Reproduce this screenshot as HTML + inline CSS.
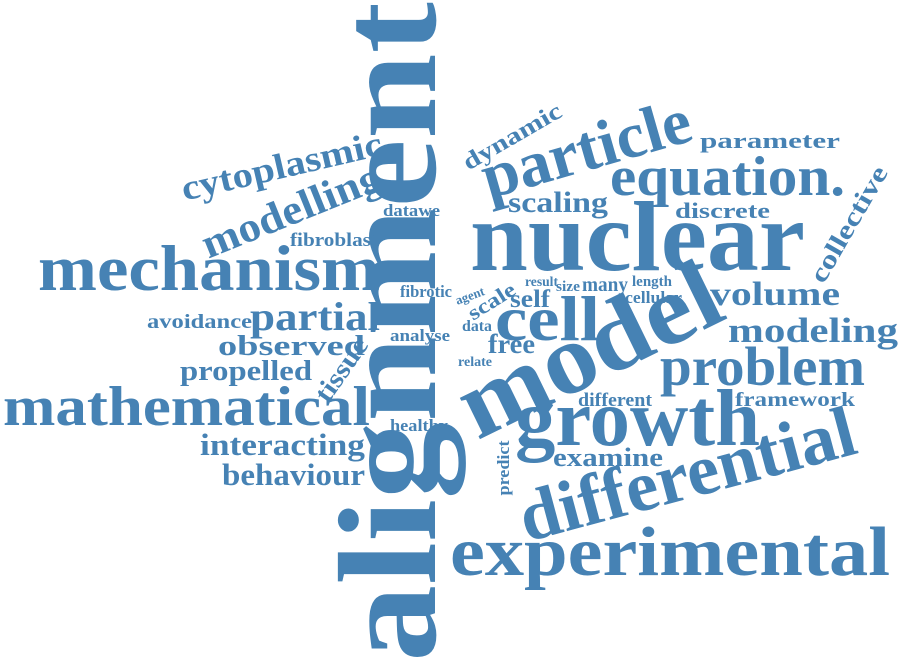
<!DOCTYPE html>
<html><head><meta charset="utf-8"><style>
html,body{margin:0;padding:0;background:#fff;width:900px;height:665px;overflow:hidden}
svg text{font-family:"Liberation Serif",serif;font-weight:bold;fill:#4682b4}
</style></head><body>
<svg width="900" height="665" viewBox="0 0 900 665">
<text transform="translate(435,332) rotate(-90)" text-anchor="middle" font-size="140" textLength="660" lengthAdjust="spacingAndGlyphs">alignment</text>
<g transform="translate(590,352) rotate(-26)"><text y="30" text-anchor="middle" font-size="100" textLength="280" lengthAdjust="spacingAndGlyphs">model</text></g>
<text x="470" y="270" font-size="100" textLength="335" lengthAdjust="spacingAndGlyphs">nuclear</text>
<text x="515" y="445" font-size="80" textLength="245" lengthAdjust="spacingAndGlyphs">growth</text>
<g transform="translate(688,478) rotate(-15)"><text y="20" text-anchor="middle" font-size="72" textLength="345" lengthAdjust="spacingAndGlyphs">differential</text></g>
<text x="450" y="575" font-size="70" textLength="440" lengthAdjust="spacingAndGlyphs">experimental</text>
<text x="38" y="290" font-size="65" textLength="342" lengthAdjust="spacingAndGlyphs">mechanism</text>
<text x="3" y="425" font-size="56" textLength="367" lengthAdjust="spacingAndGlyphs">mathematical</text>
<g transform="translate(587,152) rotate(-16)"><text y="18" text-anchor="middle" font-size="65" textLength="215" lengthAdjust="spacingAndGlyphs">particle</text></g>
<text x="610" y="195" font-size="56" textLength="235" lengthAdjust="spacingAndGlyphs">equation.</text>
<text x="660" y="385" font-size="55" textLength="205" lengthAdjust="spacingAndGlyphs">problem</text>
<text x="495" y="340" font-size="64" textLength="105" lengthAdjust="spacingAndGlyphs">cell</text>
<g transform="translate(292,212) rotate(-22)"><text y="12" text-anchor="middle" font-size="42" textLength="190" lengthAdjust="spacingAndGlyphs">modelling</text></g>
<g transform="translate(282,168) rotate(-13)"><text y="10" text-anchor="middle" font-size="36" textLength="205" lengthAdjust="spacingAndGlyphs">cytoplasmic</text></g>
<text x="250" y="330" font-size="40" textLength="130" lengthAdjust="spacingAndGlyphs">partial</text>
<text x="710" y="305" font-size="34" textLength="130" lengthAdjust="spacingAndGlyphs">volume</text>
<text x="728" y="342" font-size="35" textLength="170" lengthAdjust="spacingAndGlyphs">modeling</text>
<text x="200" y="455" font-size="31" textLength="165" lengthAdjust="spacingAndGlyphs">interacting</text>
<text x="222" y="485" font-size="31" textLength="143" lengthAdjust="spacingAndGlyphs">behaviour</text>
<text x="218" y="355" font-size="29" textLength="147" lengthAdjust="spacingAndGlyphs">observed</text>
<text x="180" y="380" font-size="29" textLength="132" lengthAdjust="spacingAndGlyphs">propelled</text>
<text x="147" y="328" font-size="20" textLength="105" lengthAdjust="spacingAndGlyphs">avoidance</text>
<text x="290" y="246" font-size="19" textLength="88" lengthAdjust="spacingAndGlyphs">fibroblast</text>
<text x="383" y="216" font-size="17" textLength="57" lengthAdjust="spacingAndGlyphs">datawe</text>
<text x="400" y="297" font-size="17" textLength="52" lengthAdjust="spacingAndGlyphs">fibrotic</text>
<text x="390" y="341" font-size="17" textLength="60" lengthAdjust="spacingAndGlyphs">analyse</text>
<text x="390" y="431" font-size="17" textLength="58" lengthAdjust="spacingAndGlyphs">healthy</text>
<g transform="translate(342,370) rotate(-55)"><text y="8" text-anchor="middle" font-size="27" textLength="72" lengthAdjust="spacingAndGlyphs">tissue</text></g>
<g transform="translate(513,138) rotate(-30)"><text y="6" text-anchor="middle" font-size="24" textLength="110" lengthAdjust="spacingAndGlyphs">dynamic</text></g>
<text x="700" y="148" font-size="22" textLength="140" lengthAdjust="spacingAndGlyphs">parameter</text>
<text x="508" y="212" font-size="30" textLength="100" lengthAdjust="spacingAndGlyphs">scaling</text>
<text x="675" y="218" font-size="22" textLength="95" lengthAdjust="spacingAndGlyphs">discrete</text>
<g transform="translate(850,225) rotate(-60)"><text y="7" text-anchor="middle" font-size="26" textLength="130" lengthAdjust="spacingAndGlyphs">collective</text></g>
<g transform="translate(470,296) rotate(-20)"><text y="4" text-anchor="middle" font-size="13" textLength="30" lengthAdjust="spacingAndGlyphs">agent</text></g>
<g transform="translate(492,302) rotate(-32)"><text y="6" text-anchor="middle" font-size="21" textLength="52" lengthAdjust="spacingAndGlyphs">scale</text></g>
<text x="525" y="286" font-size="14" textLength="33" lengthAdjust="spacingAndGlyphs">result</text>
<text x="510" y="307" font-size="25" textLength="40" lengthAdjust="spacingAndGlyphs">self</text>
<text x="556" y="291" font-size="15" textLength="24" lengthAdjust="spacingAndGlyphs">size</text>
<text x="582" y="291" font-size="20" textLength="46" lengthAdjust="spacingAndGlyphs">many</text>
<text x="632" y="286" font-size="15" textLength="40" lengthAdjust="spacingAndGlyphs">length</text>
<text x="625" y="303" font-size="17" textLength="57" lengthAdjust="spacingAndGlyphs">cellular</text>
<text x="462" y="331" font-size="16" textLength="30" lengthAdjust="spacingAndGlyphs">data</text>
<text x="488" y="353" font-size="27" textLength="47" lengthAdjust="spacingAndGlyphs">free</text>
<text x="458" y="366" font-size="14" textLength="34" lengthAdjust="spacingAndGlyphs">relate</text>
<text x="578" y="406" font-size="19" textLength="74" lengthAdjust="spacingAndGlyphs">different</text>
<text x="735" y="406" font-size="20" textLength="120" lengthAdjust="spacingAndGlyphs">framework</text>
<text transform="translate(509,468) rotate(-90)" text-anchor="middle" font-size="17" textLength="55" lengthAdjust="spacingAndGlyphs">predict</text>
<text x="553" y="466" font-size="26" textLength="110" lengthAdjust="spacingAndGlyphs">examine</text>
</svg>
</body></html>
